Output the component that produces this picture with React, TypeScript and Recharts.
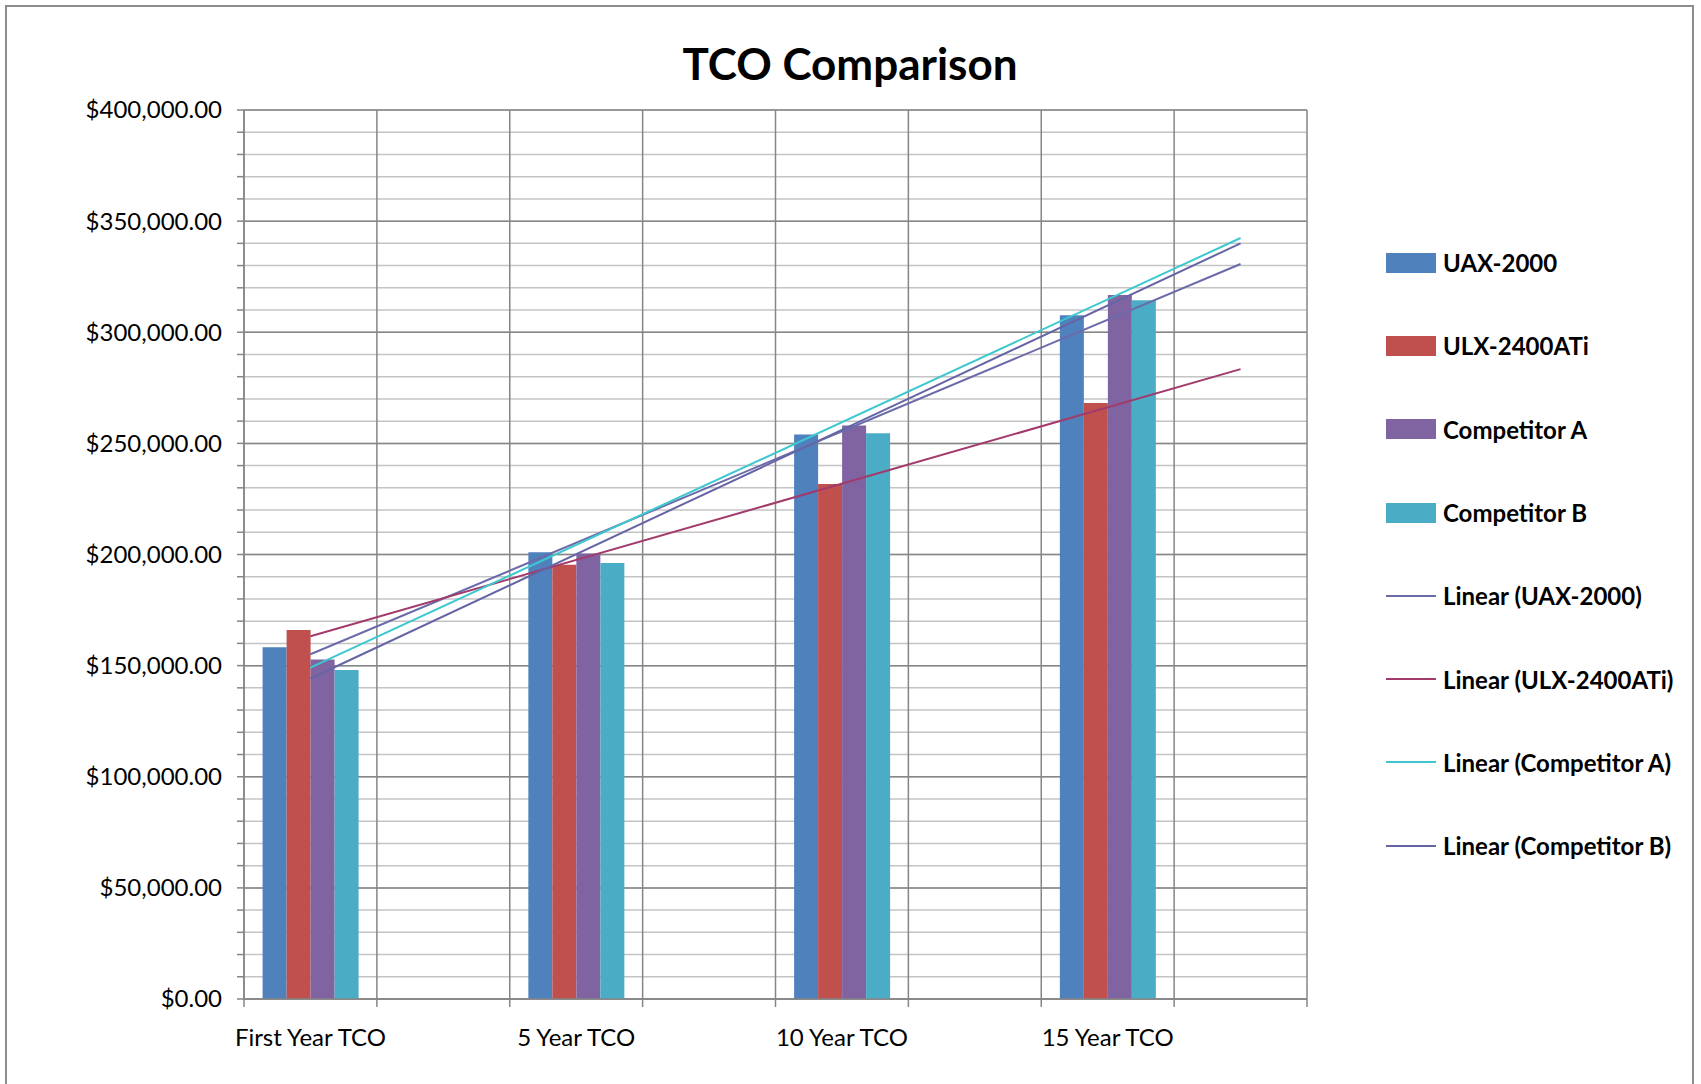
import React from 'react';
import { ComposedChart, Bar, Line, XAxis, YAxis, CartesianGrid } from 'recharts';

// 8 category slots: the chart leaves an empty slot after each period
const categories = ['First Year TCO', '', '5 Year TCO', '', '10 Year TCO', '', '15 Year TCO', ''];

const uax = [158300, null, 201000, null, 254000, null, 307700, null];
const ulx = [166000, null, 195400, null, 231700, null, 268200, null];
const compA = [152700, null, 200500, null, 258000, null, 316800, null];
const compB = [148000, null, 196200, null, 254600, null, 314400, null];

// linear trendlines: value at first slot and at last slot
const trendUax = [155100, 330700];
const trendUlx = [163200, 283400];
const trendCompA = [149100, 342400];
const trendCompB = [144200, 340000];

const majorTicks = [0, 50000, 100000, 150000, 200000, 250000, 300000, 350000, 400000];
const minorTicks = Array.from({ length: 41 }, (_, i) => i * 10000);

const W = 1701;
const H = 1084;
const PLOT_L = 244;
const PLOT_R = 1307;
const PLOT_T = 110;
const PLOT_B = 999;
const SLOT = (PLOT_R - PLOT_L) / categories.length;

const FONT = 'Lato, "Open Sans", sans-serif';
const AXIS_GRAY = '#868686';

const series = [
  { key: 'uax', name: 'UAX-2000', color: '#4F81BD' },
  { key: 'ulx', name: 'ULX-2400ATi', color: '#C0504D' },
  { key: 'compA', name: 'Competitor A', color: '#8064A2' },
  { key: 'compB', name: 'Competitor B', color: '#4BACC6' },
];

const trends = [
  { key: 'tUax', name: 'Linear (UAX-2000)', color: '#6B6BAA' },
  { key: 'tUlx', name: 'Linear (ULX-2400ATi)', color: '#A23A6B' },
  { key: 'tCompA', name: 'Linear (Competitor A)', color: '#3DC8D0' },
  { key: 'tCompB', name: 'Linear (Competitor B)', color: '#6565A5' },
];

const last = categories.length - 1;
const data = categories.map((name, i) => ({
  name,
  uax: uax[i],
  ulx: ulx[i],
  compA: compA[i],
  compB: compB[i],
  tUax: i === 0 ? trendUax[0] : i === last ? trendUax[1] : null,
  tUlx: i === 0 ? trendUlx[0] : i === last ? trendUlx[1] : null,
  tCompA: i === 0 ? trendCompA[0] : i === last ? trendCompA[1] : null,
  tCompB: i === 0 ? trendCompB[0] : i === last ? trendCompB[1] : null,
}));

const money = (v: number) =>
  '$' + v.toLocaleString('en-US', { minimumFractionDigits: 2, maximumFractionDigits: 2 });

const YTick = ({ x, y, payload }: any) => {
  if (payload.value % 50000 !== 0) return <g />;
  return (
    <text x={x} y={y} dy="0.35em" textAnchor="end" fill="#000" fontSize={24} fontFamily={FONT}>
      {money(payload.value)}
    </text>
  );
};

const XTick = ({ x, index, payload }: any) => {
  const left = x - SLOT / 2;
  return (
    <g>
      <line x1={left} x2={left} y1={PLOT_B} y2={PLOT_B + 8} stroke={AXIS_GRAY} strokeWidth={1.5} />
      {index === last && (
        <line x1={x + SLOT / 2} x2={x + SLOT / 2} y1={PLOT_B} y2={PLOT_B + 8} stroke={AXIS_GRAY} strokeWidth={1.5} />
      )}
      {payload.value ? (
        <text x={x} y={PLOT_B + 47} textAnchor="middle" fill="#000" fontSize={24} fontFamily={FONT}>
          {payload.value}
        </text>
      ) : null}
    </g>
  );
};

const verticalPoints = Array.from({ length: categories.length + 1 }, (_, i) => PLOT_L + i * SLOT);
const majorPoints = majorTicks.map((v) => PLOT_B - (v / 400000) * (PLOT_B - PLOT_T));

export default function App() {
  return (
    <div style={{ position: 'absolute', left: 0, top: 0, width: W, height: H, overflow: 'hidden', background: '#fff' }}>
      <div
        style={{
          position: 'absolute', left: 5, top: 5, width: W - 12, height: H + 20,
          border: '2px solid #8c8c8c', boxSizing: 'border-box',
        }}
      />
      <div
        style={{
          position: 'absolute', left: 0, width: W - 2 * 0, top: 36, textAlign: 'center',
          fontFamily: FONT, fontWeight: 700, fontSize: 44, color: '#000', lineHeight: '54px',
          paddingRight: 0,
        }}
      >
        <span style={{ position: 'absolute', left: 850, transform: 'translateX(-50%)', whiteSpace: 'nowrap' }}>
          TCO Comparison
        </span>
      </div>

      <div style={{ position: 'absolute', left: 0, top: 0 }}>
        <ComposedChart
          width={W}
          height={H}
          data={data}
          margin={{ top: PLOT_T, right: W - PLOT_R, bottom: H - PLOT_B - 50, left: PLOT_L - 200 }}
          barCategoryGap="14%"
          barGap={0}
        >
          <CartesianGrid horizontal={true} verticalPoints={verticalPoints} stroke="#C4C4C4" strokeWidth={1.5} vertical={false} />
          <CartesianGrid horizontal={false} vertical={true} verticalPoints={verticalPoints} stroke={AXIS_GRAY} strokeWidth={1.5} />
          <CartesianGrid horizontal={true} vertical={false} horizontalPoints={majorPoints} stroke={AXIS_GRAY} strokeWidth={1.5} />
          <XAxis
            dataKey="name"
            height={50}
            interval={0}
            tickLine={false}
            axisLine={{ stroke: AXIS_GRAY, strokeWidth: 1.5 }}
            tick={<XTick />}
          />
          <YAxis
            width={200}
            domain={[0, 400000]}
            ticks={minorTicks}
            interval={0}
            tickSize={7}
            tickMargin={15}
            tickLine={{ stroke: AXIS_GRAY, strokeWidth: 1.5 }}
            axisLine={{ stroke: AXIS_GRAY, strokeWidth: 1.5 }}
            tick={<YTick />}
          />
          {series.map((s) => (
            <Bar key={s.key} dataKey={s.key} name={s.name} fill={s.color} isAnimationActive={false} />
          ))}
          {trends.map((t) => (
            <Line
              key={t.key}
              type="linear"
              dataKey={t.key}
              name={t.name}
              stroke={t.color}
              strokeWidth={2}
              dot={false}
              activeDot={false}
              connectNulls
              isAnimationActive={false}
            />
          ))}
        </ComposedChart>
      </div>

      <div style={{ position: 'absolute', left: 1386, top: 221, fontFamily: FONT, fontWeight: 700, fontSize: 24, color: '#000' }}>
        {series.map((s) => (
          <div key={s.key} style={{ height: 83.3, display: 'flex', alignItems: 'center' }}>
            <div style={{ width: 50, height: 20, background: s.color, marginRight: 7 }} />
            <span style={{ whiteSpace: 'nowrap' }}>{s.name}</span>
          </div>
        ))}
        {trends.map((t) => (
          <div key={t.key} style={{ height: 83.3, display: 'flex', alignItems: 'center' }}>
            <div style={{ width: 50, height: 2, background: t.color, marginRight: 7 }} />
            <span style={{ whiteSpace: 'nowrap' }}>{t.name}</span>
          </div>
        ))}
      </div>
    </div>
  );
}
